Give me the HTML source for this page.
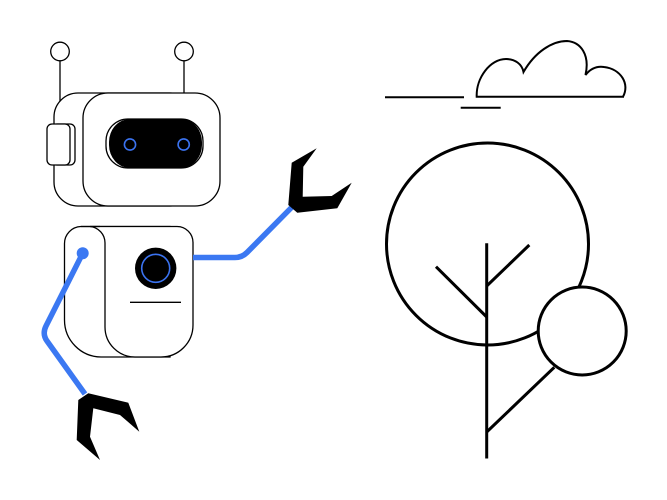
<!DOCTYPE html>
<html><head><meta charset="utf-8"><style>html,body{margin:0;padding:0;background:#fff}svg{display:block}</style></head>
<body>
<svg width="667" height="500" viewBox="0 0 667 500" xmlns="http://www.w3.org/2000/svg">
<rect width="667" height="500" fill="#fff"/>
<!-- antennas -->
<g fill="#fff" stroke="#000" stroke-width="1.3">
<line x1="60" y1="61" x2="60" y2="124"/>
<line x1="184" y1="61" x2="184" y2="94"/>
<circle cx="60" cy="51.5" r="9.3"/>
<circle cx="184" cy="51.5" r="9.3"/>
<!-- back head -->
<rect x="54" y="93" width="140" height="113" rx="24" ry="24"/>
<!-- ears -->
<rect x="52" y="124" width="23" height="41" rx="5"/>
<rect x="47" y="124" width="23" height="41" rx="5"/>
<!-- front head -->
<rect x="83" y="93" width="137" height="113" rx="25" ry="25"/>
<!-- visor -->
<rect x="106" y="119" width="97" height="49" rx="22" ry="22"/>
</g>
<rect x="109" y="119" width="93" height="49" rx="21" ry="23" fill="#000"/>
<circle cx="130" cy="144.5" r="5.6" fill="none" stroke="#3b73f0" stroke-width="1.6"/>
<circle cx="183.7" cy="144.5" r="5.6" fill="none" stroke="#3b73f0" stroke-width="1.6"/>

<!-- body -->
<g fill="#fff" stroke="#000" stroke-width="1.3">
<path d="M81,226.5 H170 V357 H101 A37,37 0 0 1 64.5,320 V243.5 A17,17 0 0 1 81,226.5 Z"/>
<path d="M90,226.5 H177 A16,16 0 0 1 193,242.5 V325 A32,32 0 0 1 161,357 H135 A30,30 0 0 1 105,327 V243 A16.5,16.5 0 0 0 90,226.5 Z"/>
</g>
<path d="M81,226.5 H100" stroke="#000" stroke-width="1.3" fill="none"/>
<circle cx="155.7" cy="268.3" r="20.7" fill="#000"/>
<circle cx="155.7" cy="268.3" r="14" fill="#000" stroke="#3b73f0" stroke-width="1.6"/>
<line x1="130" y1="302.3" x2="181" y2="302.3" stroke="#000" stroke-width="1.3"/>

<!-- blue arms -->
<g fill="none" stroke="#3b78f2" stroke-width="5.5" stroke-linejoin="round" stroke-linecap="butt">
<path d="M193,257.5 H235 Q242,257.5 247,252.5 L292,207"/>
<path d="M82.7,253.3 L46,326 Q42,334 47,341 L85,394"/>
</g>
<circle cx="82.7" cy="253.3" r="6" fill="#3b78f2"/>

<!-- claws -->
<polygon points="291.7,162.7 316.7,148.3 303.3,166.7 302.7,196.7 331.7,196 351.7,182.7 337.3,208.3 297.3,212.7 288.3,205" fill="#000"/>
<polygon points="88.3,393.3 128.3,402.7 139.3,431.7 120,415 93.3,408.3 90,436.7 100,460 76.7,440 78.3,400" fill="#000"/>

<!-- cloud -->
<g fill="none" stroke="#000" stroke-width="2">
<line x1="385" y1="97.3" x2="464" y2="97.3"/>
<line x1="460.7" y1="107.7" x2="500.7" y2="107.7"/>
<path d="M624,96.7 H476.7 C476,78 490,59 506,59 C515,59 522,64 523.5,72 C535,52 552,41 567,41 C581,42 590,55 585.5,75 C591,68 597,66 604,67 C621,69 630,84 623,96.7"/>
</g>

<!-- tree -->
<g fill="none" stroke="#000" stroke-width="3" stroke-linecap="butt">
<circle cx="487.5" cy="244" r="101"/>
<line x1="486.7" y1="243.3" x2="486.7" y2="458.5"/>
<line x1="486.7" y1="286" x2="529.3" y2="245"/>
<line x1="436" y1="266.7" x2="486.7" y2="317"/>
<line x1="486.7" y1="432" x2="554.3" y2="367.3"/>
</g>
<circle cx="582.2" cy="331" r="44" fill="#fff" stroke="#000" stroke-width="3"/>
</svg>
</body></html>
